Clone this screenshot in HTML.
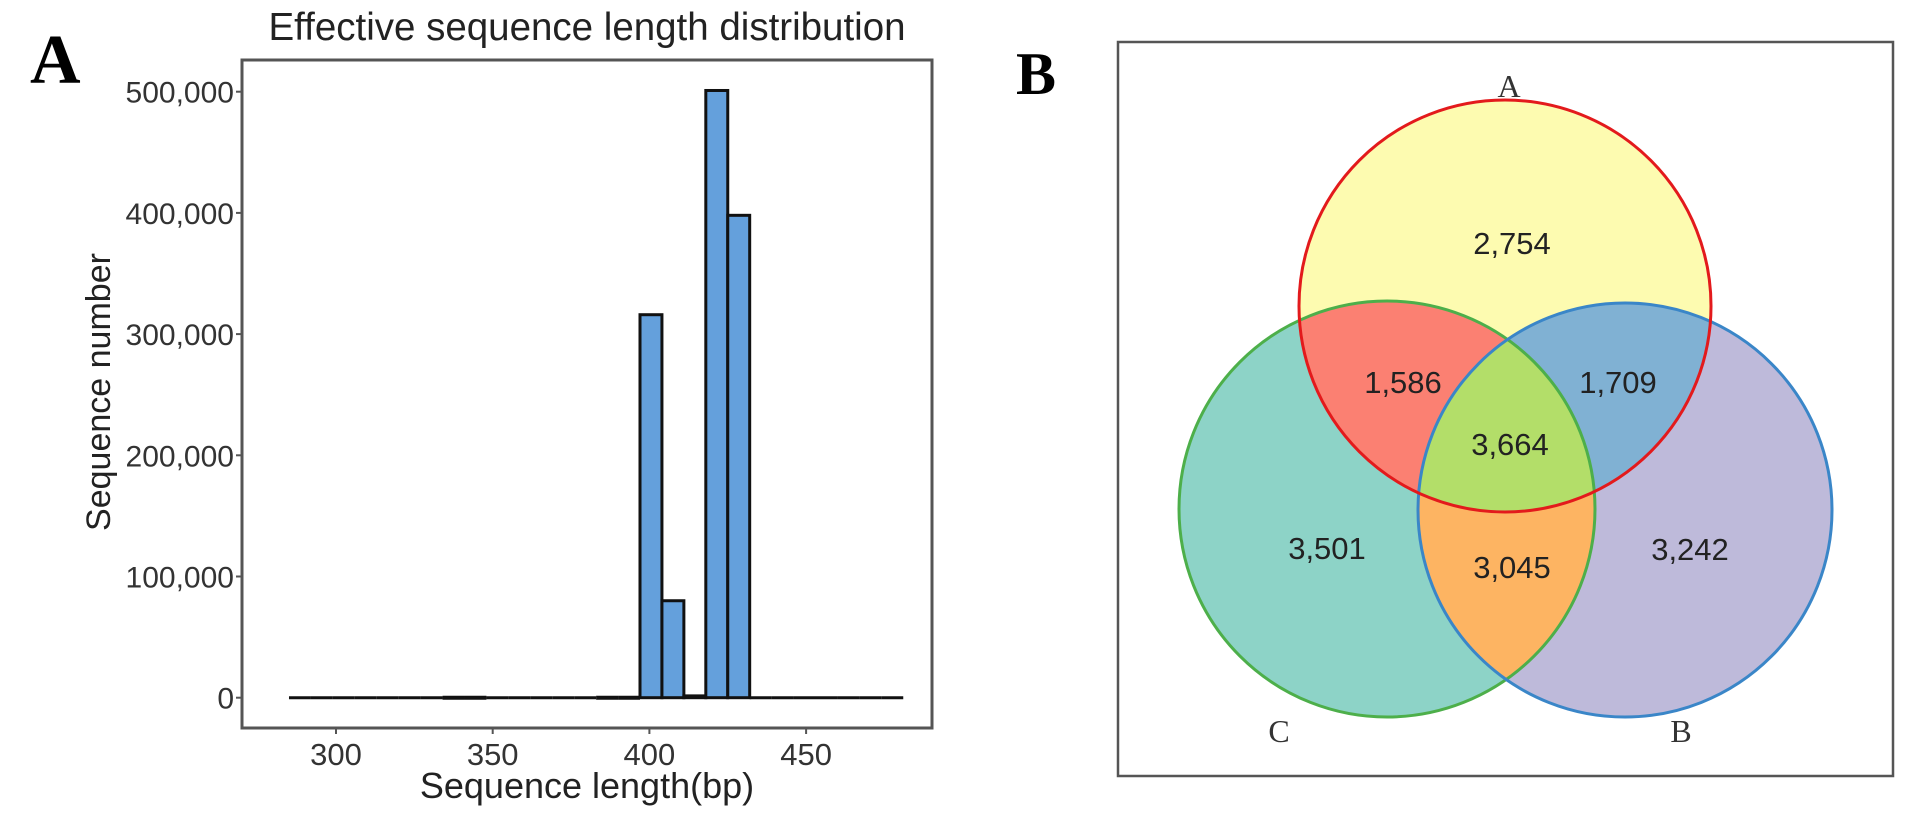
<!DOCTYPE html>
<html><head><meta charset="utf-8"><style>
html,body{margin:0;padding:0;background:#fff;}
svg{display:block;font-family:"Liberation Sans",sans-serif;}
</style></head><body>
<svg width="1913" height="818" viewBox="0 0 1913 818">
<text x="30" y="83" font-family="Liberation Serif,serif" font-weight="bold" font-size="70">A</text>
<text x="1016" y="94" font-family="Liberation Serif,serif" font-weight="bold" font-size="60">B</text>
<text x="587" y="40" text-anchor="middle" font-size="38.5" fill="#222">Effective sequence length distribution</text>
<g id="hist"></g>
<text x="587" y="798" text-anchor="middle" font-size="36" fill="#222">Sequence length(bp)</text>
<text transform="translate(110,392) rotate(-90)" text-anchor="middle" font-size="34" fill="#222">Sequence number</text>

<g>
<rect x="1118" y="42" width="775" height="734" fill="none" stroke="#555" stroke-width="2.5"/>
<defs>
<clipPath id="cA"><circle cx="1505" cy="306" r="206"/></clipPath>
<clipPath id="cB"><circle cx="1625" cy="510" r="207"/></clipPath>
<clipPath id="cC"><circle cx="1387" cy="509" r="208"/></clipPath>
</defs>
<circle cx="1387" cy="509" r="208" fill="#8dd3c7"/>
<circle cx="1625" cy="510" r="207" fill="#bebada"/>
<circle cx="1505" cy="306" r="206" fill="#fdfbb0"/>
<circle cx="1387" cy="509" r="208" fill="#fb8072" clip-path="url(#cA)"/>
<circle cx="1625" cy="510" r="207" fill="#80b1d3" clip-path="url(#cA)"/>
<circle cx="1625" cy="510" r="207" fill="#fdb462" clip-path="url(#cC)"/>
<g clip-path="url(#cA)"><circle cx="1625" cy="510" r="207" fill="#b3de69" clip-path="url(#cC)"/></g>
<circle cx="1387" cy="509" r="208" fill="none" stroke="#4daf4a" stroke-width="3"/>
<circle cx="1625" cy="510" r="207" fill="none" stroke="#3a86c8" stroke-width="3"/>
<circle cx="1505" cy="306" r="206" fill="none" stroke="#e31a1c" stroke-width="3"/>
<g font-family="Liberation Serif,serif" font-size="32" fill="#333" text-anchor="middle">
<text x="1509" y="97">A</text>
<text x="1279" y="742">C</text>
<text x="1681" y="742">B</text>
</g>
<g font-size="31" fill="#222" text-anchor="middle">
<text x="1512" y="254">2,754</text>
<text x="1403" y="393">1,586</text>
<text x="1618" y="393">1,709</text>
<text x="1510" y="455">3,664</text>
<text x="1327" y="559">3,501</text>
<text x="1512" y="578">3,045</text>
<text x="1690" y="560">3,242</text>
</g>
</g>
</svg>
<script>
const binStarts = [285,292,299,306,313,320,327,334,341,348,355,362,369,376,383,390,397,404,411,418,425,432,439,446,453,460,467,474];
const binCounts = [0,0,0,0,0,0,0,600,600,0,0,0,0,0,300,500,316000,80000,1500,501000,398000,0,0,0,0,0,0,0];
const binWidth = 7;
const yTicks = [0,100000,200000,300000,400000,500000];
const yTickLabels = ["0","100,000","200,000","300,000","400,000","500,000"];
const xTicks = [300,350,400,450];
const xTickLabels = ["300","350","400","450"];

const NS = "http://www.w3.org/2000/svg";
const g = document.getElementById('hist');
const X = v => 336 + (v - 300) * 3.134;
const Y = v => 697.7 - v * 0.001212;
function mk(tag, attrs, parent){const e=document.createElementNS(NS,tag);for(const k in attrs)e.setAttribute(k,attrs[k]);(parent||g).appendChild(e);return e;}

const panel = mk('rect',{x:242,y:60,width:690,height:668,fill:'#fff',stroke:'#555','stroke-width':3});



binStarts.forEach((s,i)=>{
  const y = Y(binCounts[i]);
  const h = Y(0) - y;
  if (h < 1) {
    const l = mk('line',{x1:X(s),x2:X(s+binWidth),y1:Y(0),y2:Y(0),stroke:'#111','stroke-width':h>0.3?4:3});
    
    
  } else {
    const r = mk('rect',{x:X(s),y:y,width:X(s+binWidth)-X(s),height:h,fill:'#64a0dc',stroke:'#111','stroke-width':3});
    
    
  }
});

yTicks.forEach((t,i)=>{
  const y = Y(t);
  const tk = mk('line',{x1:236,x2:242,y1:y,y2:y,stroke:'#555','stroke-width':2});
  
  
  const tx = mk('text',{x:234,y:y+11,'text-anchor':'end','font-size':30,fill:'#333'});
  tx.textContent = yTickLabels[i];
  
  
});
xTicks.forEach((t,i)=>{
  const x = X(t);
  const tk = mk('line',{x1:x,x2:x,y1:728,y2:734,stroke:'#555','stroke-width':2});
  
  
  const tx = mk('text',{x:x,y:765,'text-anchor':'middle','font-size':31,fill:'#333'});
  tx.textContent = xTickLabels[i];
  
  
});
</script>
</body></html>
